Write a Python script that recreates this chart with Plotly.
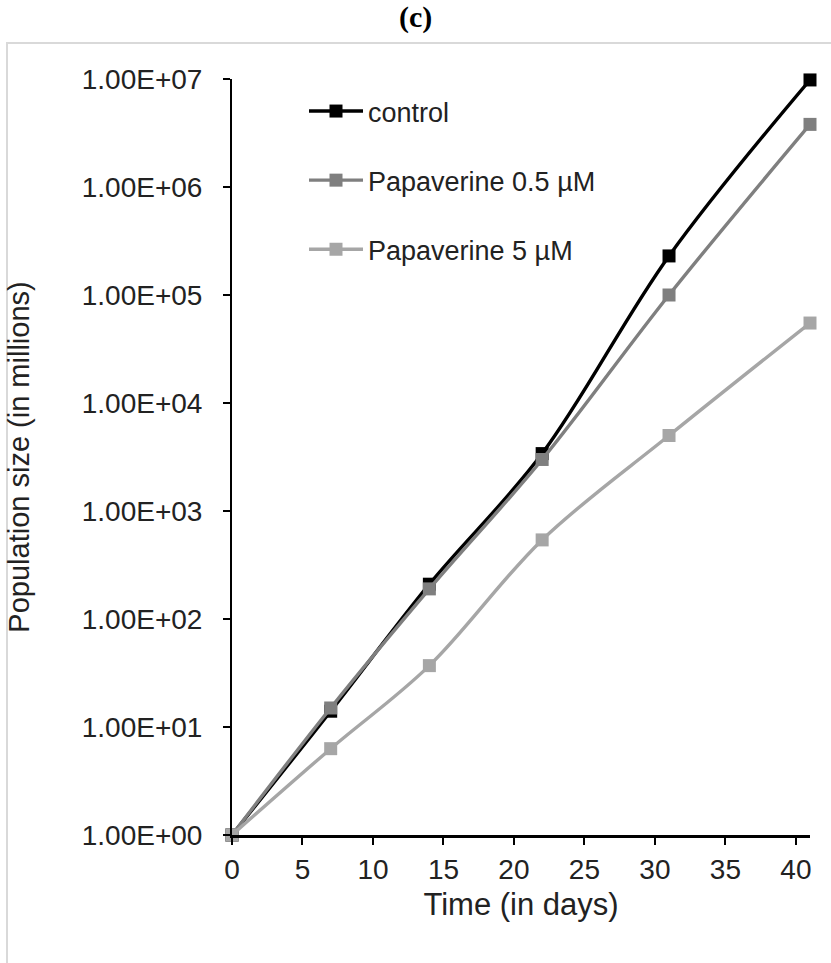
import plotly.graph_objects as go

days = [0, 7, 14, 22, 31, 41]
control = [1, 14, 210, 3400, 230000, 9.8e6]
pap_05 = [1, 15, 190, 3000, 100000, 3.8e6]
pap_5 = [1, 6.3, 37, 540, 5000, 55000]

series_names = ["control", "Papaverine 0.5 µM", "Papaverine 5 µM"]
series_colors = ["#000000", "#7f7f7f", "#a6a6a6"]

y_tick_vals = [1, 10, 100, 1000, 1e4, 1e5, 1e6, 1e7]
y_tick_text = ["1.00E+00", "1.00E+01", "1.00E+02", "1.00E+03",
               "1.00E+04", "1.00E+05", "1.00E+06", "1.00E+07"]
x_tick_vals = [0, 5, 10, 15, 20, 25, 30, 35, 40]

W, H = 831, 963
L, R, T, B = 232, 21, 79, 128
pw, ph = W - L - R, H - T - B

def px_x(p):
    return (p - L) / pw

def px_y(p):
    return (H - B - p) / ph

fig = go.Figure()
for i, (name, vals, col) in enumerate(zip(series_names, [control, pap_05, pap_5], series_colors)):
    fig.add_trace(go.Scatter(
        x=days, y=vals, name=name, mode="lines+markers",
        line=dict(color=col, width=3.4, shape="spline", smoothing=1),
        marker=dict(symbol="square", size=13, color=col),
        legendgroup=f"g{i}", cliponaxis=False,
    ))

font = "Liberation Sans, Arial, sans-serif"
fig.update_layout(
    width=W, height=H,
    margin=dict(l=L, r=R, t=T, b=B),
    paper_bgcolor="white", plot_bgcolor="white",
    showlegend=True,
    legend=dict(x=px_x(304), y=px_y(87), xanchor="left", yanchor="top",
                font=dict(family=font, size=27, color="#222222"),
                tracegroupgap=31, bgcolor="rgba(0,0,0,0)", itemwidth=54),
    xaxis=dict(range=[0, 41.0], tickvals=x_tick_vals, showgrid=False, zeroline=False,
               showline=True, linecolor="#000000", linewidth=3,
               ticks="outside", ticklen=7, tickwidth=1.5, tickcolor="#000000",
               tickfont=dict(family=font, size=28, color="#222222"),
               title=dict(text="Time (in days)", font=dict(family=font, size=31, color="#222222"), standoff=10)),
    yaxis=dict(type="log", range=[0, 7], tickvals=y_tick_vals, ticktext=y_tick_text,
               showgrid=False, zeroline=False, showline=True, linecolor="#000000", linewidth=2,
               ticks="outside", ticklen=7, tickwidth=1.5, tickcolor="#000000",
               ticklabelstandoff=15,
               tickfont=dict(family=font, size=28, color="#222222"),
               title=dict(text="Population size (in millions)", font=dict(family=font, size=29, color="#222222"), standoff=44)),
    shapes=[dict(type="rect", xref="paper", yref="paper",
                 x0=px_x(7), x1=px_x(880), y0=px_y(1000), y1=px_y(43),
                 line=dict(color="#d9d9d9", width=2), layer="below")],
    annotations=[dict(text="<b>(c)</b>", xref="paper", yref="paper",
                      x=px_x(415), y=px_y(17), xanchor="center", yanchor="middle",
                      showarrow=False, font=dict(family="Liberation Serif, Times New Roman, serif", size=30, color="#000000"))],
)

fig.write_html("out.html")
